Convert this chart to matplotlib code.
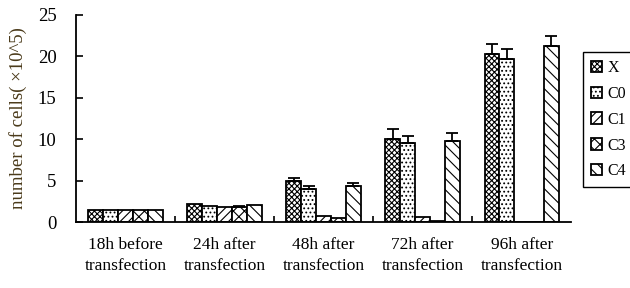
import matplotlib.pyplot as plt
import numpy as np

groups = ["18h before\ntransfection", "24h after\ntransfection", "48h after\ntransfection",
          "72h after\ntransfection", "96h after\ntransfection"]
series = ["X", "C0", "C1", "C3", "C4"]
values = {
    "X":  [1.5, 2.15, 4.9, 10.0, 20.3],
    "C0": [1.5, 1.95, 3.95, 9.6, 19.7],
    "C1": [1.5, 1.8, 0.7, 0.6, 0.0],
    "C3": [1.5, 1.8, 0.5, 0.1, 0.0],
    "C4": [1.5, 2.1, 4.35, 9.8, 21.25],
}
errors = {
    "X":  [0.0, 0.0, 0.4, 1.2, 1.2],
    "C0": [0.0, 0.0, 0.35, 0.8, 1.2],
    "C1": [0.0, 0.0, 0.0, 0.0, 0.0],
    "C3": [0.0, 0.1, 0.0, 0.0, 0.0],
    "C4": [0.0, 0.0, 0.4, 1.0, 1.25],
}
hatches = {"X": "xxxxxx", "C0": "....", "C1": "////", "C3": "xxx", "C4": "\\\\\\"}

plt.rcParams['font.family'] = ['Liberation Serif', 'DejaVu Serif']
plt.rcParams['hatch.linewidth'] = 0.8

fig = plt.figure(figsize=(6.3, 2.88), dpi=100)
ax = fig.add_axes([0.1206, 0.229, 0.786, 0.719])

x = np.arange(len(groups))
width = 0.15
for i, s in enumerate(series):
    pos = x + (i - 2) * width
    ax.bar(pos, values[s], width, color="white", edgecolor="black", linewidth=1.3,
           hatch=hatches[s], label=s)
    err = np.array(errors[s])
    mask = err > 0
    ax.errorbar(pos[mask], np.array(values[s])[mask],
                yerr=[np.zeros(mask.sum()), err[mask]],
                fmt="none", ecolor="black", elinewidth=1.3, capsize=4, capthick=1.3)

ax.set_xlim(-0.5, 4.5)
ax.set_ylim(0, 25)
ax.set_yticks([0, 5, 10, 15, 20, 25])
ax.set_xticks(x)
ax.set_xticklabels(groups, fontsize=12.5, linespacing=1.35)
ax.set_xticks(np.arange(0.5, 4.0, 1.0), minor=True)
ax.tick_params(axis="x", which="major", length=0, pad=11)
ax.tick_params(axis="x", which="minor", direction="in", length=4, width=1.2)
ax.tick_params(axis="y", direction="in", length=5, width=1.2, labelsize=13.5, pad=14)
for sp in ["top", "right"]:
    ax.spines[sp].set_visible(False)
for sp in ["left", "bottom"]:
    ax.spines[sp].set_linewidth(1.3)

ax.set_ylabel("number of cells( ×10^5)", fontsize=13.5, color="#4a3a1a", labelpad=8)

fig.legend(loc="upper left", bbox_to_anchor=(0.925, 0.82), fontsize=11.5,
           handlelength=0.7, handleheight=0.7, handletextpad=0.35,
           fancybox=False, edgecolor="black", framealpha=1, labelspacing=0.62,
           borderpad=0.5, borderaxespad=0)

fig.savefig("out.png", dpi=100)
